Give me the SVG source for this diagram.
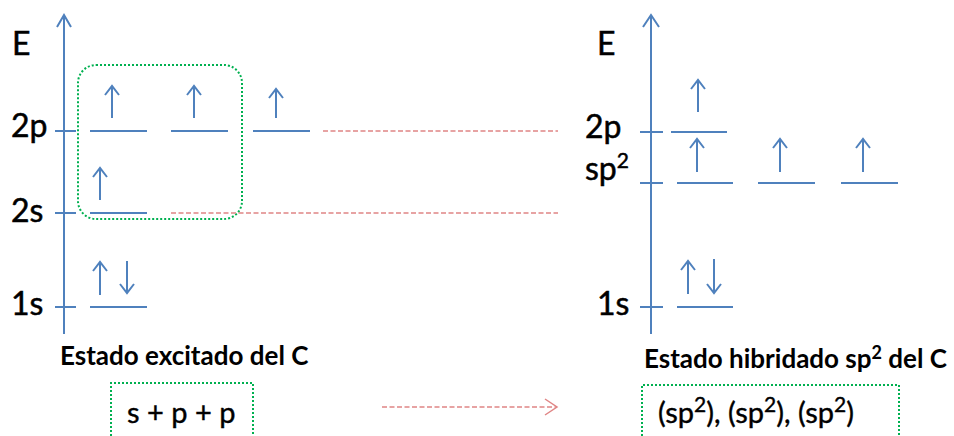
<svg xmlns="http://www.w3.org/2000/svg" width="954" height="436" viewBox="0 0 954 436">
<style>
.ax{stroke:#4f81bd;stroke-width:2;fill:none}
.lv{stroke:#4f81bd;stroke-width:2;fill:none}
.sp{stroke:#4f81bd;stroke-width:2;fill:none}
.red{stroke:#e08585;stroke-width:1.5;fill:none;stroke-dasharray:5 2.5}
.grn{stroke:#00b050;stroke-width:2;fill:none;stroke-dasharray:2 2}
.big{font-family:Lato,"Liberation Sans",sans-serif;font-size:32px;fill:#000;stroke:#000;stroke-width:0.5}
.lab{font-family:Lato,"Liberation Sans",sans-serif;font-size:26px;font-weight:bold;fill:#000}
.form{font-family:Lato,"Liberation Sans",sans-serif;font-size:29px;fill:#000;stroke:#000;stroke-width:0.4}
</style>
<rect width="954" height="436" fill="#fff"/>

<g id="axis-left">
<path class="ax" d="M64 334 V15 M57 27 L64 15 L71 27"/>
<text class="big" x="12" y="55">E</text>
</g>
<g id="axis-right">
<path class="ax" d="M651 334 V15 M643 27 L651 15 L659 27"/>
<text class="big" x="597" y="55">E</text>
</g>

<g id="left-2p">
<text class="big" x="11" y="137">2p</text>
<path class="lv" d="M55 131 H76 M90 131 H147 M171 131 H228 M253 131 H310"/>
<path class="sp" d="M112 118 V86 M105 95 L112 86 L119 95 M194 118 V86 M187 95 L194 86 L201 95 M276 118 V89 M269 98 L276 89 L283 98"/>
</g>
<g id="left-2s">
<text class="big" x="11" y="222">2s</text>
<path class="lv" d="M55 213 H76 M90 213 H147"/>
<path class="sp" d="M100 200 V168 M93 177 L100 168 L107 177"/>
</g>
<g id="left-1s">
<text class="big" x="11" y="315">1s</text>
<path class="lv" d="M55 307 H76 M90 307 H147"/>
<path class="sp" d="M100 295 V262 M93 271 L100 262 L107 271 M127 261 V293 M120 284 L127 293 L134 284"/>
</g>
<g id="left-group-box">
<rect class="grn" x="78" y="65" width="164" height="154" rx="18"/>
</g>
<g id="left-label">
<text class="lab" x="60" y="365">Estado excitado del C</text>
</g>
<g id="left-formula">
<path class="grn" d="M111 440 V383 H253 V440"/>
<text class="form" x="127" y="423">s + p + p</text>
</g>

<g id="right-2p">
<text class="big" x="585" y="138">2p</text>
<path class="lv" d="M640 132 H663 M671 132 H727"/>
<path class="sp" d="M698 112 V80 M691 89 L698 80 L705 89"/>
</g>
<g id="right-sp2">
<text class="big" x="585" y="180">sp<tspan font-size="21" dy="-12">2</tspan></text>
<path class="lv" d="M640 183 H663 M677 183 H733 M758 183 H815 M841 183 H898"/>
<path class="sp" d="M697 172 V139 M690 148 L697 139 L704 148 M780 172 V139 M773 148 L780 139 L787 148 M863 172 V139 M856 148 L863 139 L870 148"/>
</g>
<g id="right-1s">
<text class="big" x="597" y="315">1s</text>
<path class="lv" d="M640 307 H663 M677 307 H733"/>
<path class="sp" d="M688 294 V261 M681 270 L688 261 L695 270 M714 259 V293 M707 284 L714 293 L721 284"/>
</g>
<g id="right-label">
<text class="lab" x="644" y="368">Estado hibridado sp<tspan font-size="18" dy="-9">2</tspan><tspan dy="9"> del C</tspan></text>
</g>
<g id="right-formula">
<path class="grn" d="M642 440 V385 H899 V440"/>
<text class="form" x="658" y="423">(sp<tspan font-size="21" dy="-11">2</tspan><tspan dy="11">), (sp</tspan><tspan font-size="21" dy="-11">2</tspan><tspan dy="11">), (sp</tspan><tspan font-size="21" dy="-11">2</tspan><tspan dy="11">)</tspan></text>
</g>

<g id="connectors">
<path class="red" d="M323 131 H558"/>
<path class="red" d="M171 213 H558"/>
<path class="red" d="M382 407 H557"/>
<path d="M545 399 L557 407 L545 415" stroke="#e08585" stroke-width="1.5" fill="none"/>
</g>
</svg>
